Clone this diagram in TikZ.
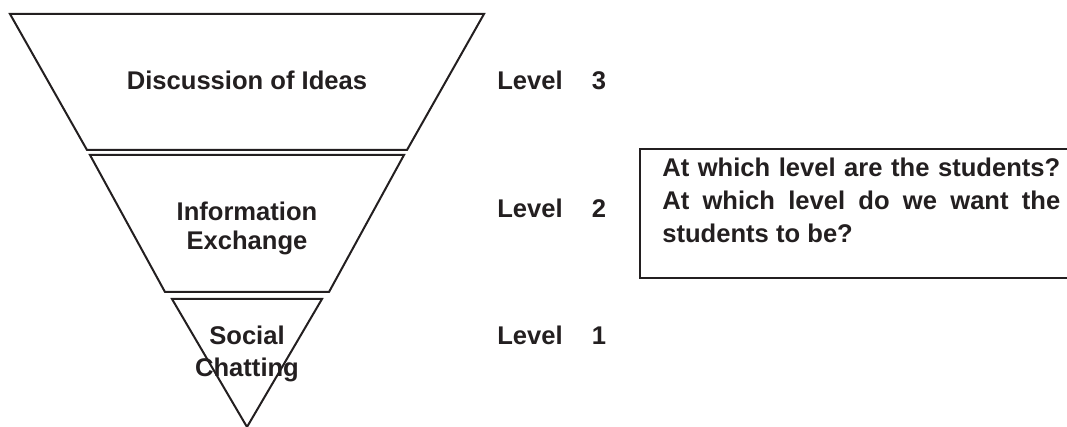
\documentclass[tikz,border=0pt]{standalone}
\usepackage{fontspec}
\setmainfont{Liberation Sans}
\usepackage{tikz}
\usepackage{xcolor}

\definecolor{ink}{HTML}{231F20}

\begin{document}
\begin{tikzpicture}[x=0.25mm, y=-0.25mm]
        % Style definitions
        \tikzset{
            layer/.style={ink, line width=0.5mm, line join=miter},
            qbox/.style={ink, line width=0.55mm},
            lbl/.style={ink, inner sep=0pt, font=\bfseries\fontsize{18.2}{20.6}\selectfont}
        }

        \useasboundingbox (0, 0) rectangle (1067, 427);
        \clip (0, 0) rectangle (1067, 427);

        % ==========================================
        % FUNNEL (widest layer on top)
        % ==========================================

        \draw[layer] (10, 14) -- (484, 14) -- (407, 150) -- (87, 150) -- cycle;
        \draw[layer] (90, 155) -- (404, 155) -- (329, 292) -- (165, 292) -- cycle;
        \draw[layer] (172, 299) -- (322, 299) -- (247, 427) -- cycle;

        \node[lbl, anchor=base] (ideas) at (247, 90) {Discussion of Ideas};
        \node[lbl, align=center] (exchange) at (247, 228) {Information\\Exchange};
        \node[lbl, align=center, font=\bfseries\fontsize{18.2}{22.8}\selectfont] (chatting) at (247, 354) {Social\\Chatting};

        % ==========================================
        % LEVELS
        % ==========================================

        \node[lbl, anchor=base west] (level3) at (497, 90) {Level\hspace{7.3mm}3};
        \node[lbl, anchor=base west] (level2) at (497, 218) {Level\hspace{7.3mm}2};
        \node[lbl, anchor=base west] (level1) at (497, 345) {Level\hspace{7.3mm}1};

        % ==========================================
        % QUESTION BOX (runs off the right edge)
        % ==========================================

        \draw[qbox] (640, 149) rectangle (1090, 278);
        \node[lbl, anchor=north west, text width=99.5mm, align=justify,
              font=\bfseries\fontsize{18.2}{23.5}\selectfont]
            (question) at (662, 157.5) {\hyphenpenalty=10000 \spaceskip=.28em plus .3em minus .05em\relax
            At which level are the students? At which level do we want the students to be?};
    \end{tikzpicture}
\end{document}
